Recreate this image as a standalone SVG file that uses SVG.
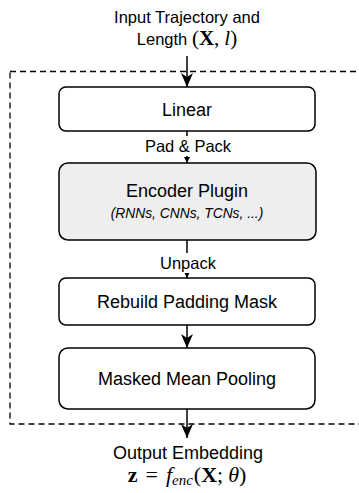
<svg xmlns="http://www.w3.org/2000/svg" width="359" height="493" viewBox="0 0 359 493">
  <style>
    .box { fill: #ffffff; stroke: #000000; stroke-width: 1.5; }
    .gray { fill: #eeeeee; }
    .lbl { font-family: "Liberation Sans", Arial, sans-serif; font-size: 18px; fill: #000; text-anchor: middle; }
    .edge-lbl { font-family: "Liberation Sans", Arial, sans-serif; font-size: 16.5px; fill: #000; text-anchor: middle; }
    .sub { font-family: "Liberation Sans", Arial, sans-serif; font-size: 13.8px; font-style: italic; fill: #000; text-anchor: middle; }
    .io { font-family: "Liberation Sans", Arial, sans-serif; font-size: 16.5px; fill: #000; text-anchor: middle; }
    .math { font-family: "Liberation Serif", "Times New Roman", serif; font-size: 21px; }
    .bf { font-weight: bold; }
    .it { font-style: italic; }
    .edge { stroke: #000; stroke-width: 1.5; fill: none; }
    .frame { stroke: #000; stroke-width: 1.3; fill: none; stroke-dasharray: 6 4; }
  </style>
  <defs>
    <marker id="big" viewBox="0 0 14 12" refX="14" refY="6" markerWidth="14" markerHeight="12" markerUnits="userSpaceOnUse" orient="auto">
      <path d="M0,0 L14,6 L0,12 L4,6 Z" fill="#000"/>
    </marker>
    <marker id="small" viewBox="0 0 6 6" refX="6" refY="3" markerWidth="6" markerHeight="6" markerUnits="userSpaceOnUse" orient="auto">
      <path d="M0,0 L6,3 L0,6 Z" fill="#000"/>
    </marker>
  </defs>

  <!-- encoder boundary -->
  <rect class="frame" x="10" y="71.5" width="356" height="352.5"/>

  <!-- input / output captions -->
  <g id="input">
    <text class="io" x="187" y="23">Input Trajectory and</text>
    <text class="io" x="187" y="45">Length <tspan class="math">(<tspan class="bf">X</tspan>,<tspan class="it" dx="5">l</tspan>)</tspan></text>
  </g>
  <g id="output">
    <text class="io" x="188" y="459" style="font-size:18px">Output Embedding</text>
    <text class="io math" x="187" y="482" style="font-size:22px"><tspan class="bf">z</tspan><tspan dx="8">=</tspan><tspan class="it" dx="8">f</tspan><tspan class="it" style="font-size:15px" dy="3">enc</tspan><tspan dy="-3" dx="1">(</tspan><tspan class="bf">X</tspan>;<tspan class="it" dx="5">θ</tspan>)</text>
  </g>

  <!-- pipeline stages -->
  <g id="linear">
    <rect class="box" x="59" y="87" width="256" height="44" rx="7"/>
    <text class="lbl" x="187" y="115.5">Linear</text>
  </g>
  <g id="encoder-plugin">
    <rect class="box gray" x="59" y="163" width="257" height="77" rx="9"/>
    <text class="lbl" x="187" y="197">Encoder Plugin</text>
    <text class="sub" x="187" y="218">(RNNs, CNNs, TCNs, ...)</text>
  </g>
  <g id="rebuild-mask">
    <rect class="box" x="59" y="278" width="256" height="47" rx="7"/>
    <text class="lbl" x="187" y="307.5">Rebuild Padding Mask</text>
  </g>
  <g id="mean-pooling">
    <rect class="box" x="59" y="348" width="256" height="61" rx="9"/>
    <text class="lbl" x="187" y="385">Masked Mean Pooling</text>
  </g>

  <!-- connectors -->
  <g id="connectors">
    <line class="edge" x1="187" y1="56" x2="187" y2="87" marker-end="url(#big)"/>
    <line class="edge" x1="187" y1="131" x2="187" y2="163" marker-end="url(#small)"/>
    <line class="edge" x1="187" y1="240" x2="187" y2="278" marker-end="url(#small)"/>
    <line class="edge" x1="187" y1="325" x2="187" y2="348" marker-end="url(#big)"/>
    <line class="edge" x1="187" y1="409" x2="187" y2="438" marker-end="url(#big)"/>
    <rect x="140" y="136" width="94" height="20" fill="#fff"/>
    <text class="edge-lbl" x="188" y="152">Pad &amp; Pack</text>
    <rect x="156" y="253" width="62" height="20" fill="#fff"/>
    <text class="edge-lbl" x="188" y="268.5">Unpack</text>
  </g>
</svg>
